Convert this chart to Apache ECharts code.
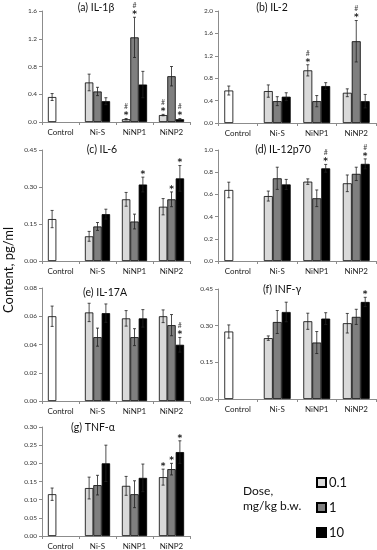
<!DOCTYPE html>
<html><head><meta charset="utf-8">
<script src="https://cdn.jsdelivr.net/npm/echarts@6/dist/echarts.min.js"></script>
<style>html,body{margin:0;padding:0;background:#fff}#c{width:377px;height:550px}</style>
</head><body><div id="c"></div>
<script>
const categories = ['Control', 'Ni-S', 'NiNP1', 'NiNP2'];
const doses = ['0.1', '1', '10'];

// (a) IL-1β
const il1b_d01 = [0.36, 0.57, 0.04, 0.10], il1b_e01 = [0.05, 0.12, 0.01, 0.01];
const il1b_d1 = [null, 0.44, 1.22, 0.66], il1b_e1 = [null, 0.06, 0.29, 0.14];
const il1b_d10 = [null, 0.30, 0.54, 0.04], il1b_e10 = [null, 0.05, 0.19, 0.01];
const il1b_m01 = ['', '', '*#', '*#'], il1b_m1 = ['', '', '*#', ''], il1b_m10 = ['', '', '', '*#'];
// (b) IL-2
const il2_d01 = [0.58, 0.57, 0.94, 0.54], il2_e01 = [0.08, 0.11, 0.10, 0.07];
const il2_d1 = [null, 0.39, 0.39, 1.46], il2_e1 = [null, 0.08, 0.10, 0.37];
const il2_d10 = [null, 0.47, 0.66, 0.39], il2_e10 = [null, 0.07, 0.06, 0.12];
const il2_m01 = ['', '', '*#', ''], il2_m1 = ['', '', '', '*#'], il2_m10 = ['', '', '', ''];
// (c) IL-6
const il6_d01 = [0.17, 0.10, 0.25, 0.22], il6_e01 = [0.035, 0.02, 0.028, 0.033];
const il6_d1 = [null, 0.14, 0.16, 0.25], il6_e1 = [null, 0.016, 0.03, 0.03];
const il6_d10 = [null, 0.19, 0.31, 0.335], il6_e10 = [null, 0.02, 0.03, 0.052];
const il6_m01 = ['', '', '', ''], il6_m1 = ['', '', '', '*'], il6_m10 = ['', '', '*', '*'];
// (d) IL-12p70
const il12_d01 = [0.64, 0.585, 0.715, 0.70], il12_e01 = [0.07, 0.045, 0.025, 0.075];
const il12_d1 = [null, 0.745, 0.565, 0.785], il12_e1 = [null, 0.10, 0.075, 0.06];
const il12_d10 = [null, 0.69, 0.835, 0.875], il12_e10 = [null, 0.045, 0.035, 0.045];
const il12_m01 = ['', '', '', ''], il12_m1 = ['', '', '', ''], il12_m10 = ['', '', '*#', '*#'];
// (e) IL-17A
const il17_d01 = [0.060, 0.0627, 0.0585, 0.060], il17_e01 = [0.0072, 0.0065, 0.0055, 0.0045];
const il17_d1 = [null, 0.0452, 0.0452, 0.0537], il17_e1 = [null, 0.0064, 0.006, 0.0075];
const il17_d10 = [null, 0.0622, 0.0585, 0.0398], il17_e10 = [null, 0.0065, 0.0062, 0.0052];
const il17_m01 = ['', '', '', ''], il17_m1 = ['', '', '', ''], il17_m10 = ['', '', '', '*#'];
// (f) INF-γ
const inf_d01 = [0.276, 0.249, 0.318, 0.31], inf_e01 = [0.027, 0.009, 0.033, 0.04];
const inf_d1 = [null, 0.315, 0.231, 0.336], inf_e1 = [null, 0.047, 0.045, 0.031];
const inf_d10 = [null, 0.356, 0.329, 0.397], inf_e10 = [null, 0.04, 0.024, 0.019];
const inf_m01 = ['', '', '', ''], inf_m1 = ['', '', '', ''], inf_m10 = ['', '', '', '*'];
// (g) TNF-α
const tnf_d01 = [0.115, 0.132, 0.138, 0.162], tnf_e01 = [0.017, 0.03, 0.026, 0.022];
const tnf_d1 = [null, 0.14, 0.115, 0.184], tnf_e1 = [null, 0.027, 0.037, 0.016];
const tnf_d10 = [null, 0.20, 0.16, 0.231], tnf_e10 = [null, 0.05, 0.038, 0.031];
const tnf_m01 = ['', '', '', '*'], tnf_m1 = ['', '', '', '*'], tnf_m10 = ['', '', '', '*'];

const panels = [
  {title: '(a) IL-1β', max: 1.6, interval: 0.4, dec: 1, vals: [il1b_d01, il1b_d1, il1b_d10], errs: [il1b_e01, il1b_e1, il1b_e10], marks: [il1b_m01, il1b_m1, il1b_m10]},
  {title: '(b) IL-2', max: 2.0, interval: 0.4, dec: 1, vals: [il2_d01, il2_d1, il2_d10], errs: [il2_e01, il2_e1, il2_e10], marks: [il2_m01, il2_m1, il2_m10]},
  {title: '(c) IL-6', max: 0.45, interval: 0.15, dec: 2, vals: [il6_d01, il6_d1, il6_d10], errs: [il6_e01, il6_e1, il6_e10], marks: [il6_m01, il6_m1, il6_m10]},
  {title: '(d) IL-12p70', max: 1.0, interval: 0.2, dec: 1, vals: [il12_d01, il12_d1, il12_d10], errs: [il12_e01, il12_e1, il12_e10], marks: [il12_m01, il12_m1, il12_m10]},
  {title: '(e) IL-17A', max: 0.08, interval: 0.02, dec: 2, vals: [il17_d01, il17_d1, il17_d10], errs: [il17_e01, il17_e1, il17_e10], marks: [il17_m01, il17_m1, il17_m10]},
  {title: '(f) INF-γ', max: 0.45, interval: 0.15, dec: 2, vals: [inf_d01, inf_d1, inf_d10], errs: [inf_e01, inf_e1, inf_e10], marks: [inf_m01, inf_m1, inf_m10]},
  {title: '(g) TNF-α', max: 0.30, interval: 0.05, dec: 2, vals: [tnf_d01, tnf_d1, tnf_d10], errs: [tnf_e01, tnf_e1, tnf_e10], marks: [tnf_m01, tnf_m1, tnf_m10]}
];

const grids = [
  {left: 42, top: 11, width: 148, height: 111},
  {left: 218, top: 11, width: 158, height: 112},
  {left: 42, top: 150, width: 148, height: 111},
  {left: 218, top: 150, width: 158, height: 111},
  {left: 42, top: 288, width: 148, height: 113},
  {left: 218, top: 289, width: 158, height: 110},
  {left: 42, top: 427, width: 148, height: 109}
];
const titlePos = [[96, 8], [272, 8], [102, 150], [283, 150], [105, 293], [282, 290], [93, 428]];

const FONT = 'Lato';
const colors = ['#d9d9d9', '#7f7f7f', '#000000'];
const GAP = 0.32;

const xAxis = [], yAxis = [], series = [], graphics = [];
panels.forEach((p, gi) => {
  xAxis.push({
    type: 'category', gridIndex: gi, data: categories,
    axisLine: {lineStyle: {color: '#8c8c8c', width: 1}},
    axisTick: {show: true, length: 3, lineStyle: {color: '#8c8c8c'}},
    axisLabel: {fontSize: 8, color: '#222', fontFamily: FONT, margin: 6}
  });
  yAxis.push({
    type: 'value', gridIndex: gi, min: 0, max: p.max, interval: p.interval,
    axisLine: {show: true, lineStyle: {color: '#8c8c8c', width: 1}},
    axisTick: {show: true, length: 3, lineStyle: {color: '#8c8c8c'}},
    splitLine: {show: false},
    axisLabel: {fontSize: 6.5, color: '#333', fontFamily: FONT, margin: 5,
      formatter: v => v.toFixed(p.dec)}
  });
  p.vals.forEach((arr, si) => {
    series.push({
      type: 'bar', name: doses[si], xAxisIndex: gi, yAxisIndex: gi,
      barGap: '0%', barCategoryGap: (GAP * 100) + '%',
      itemStyle: {color: colors[si], borderColor: '#000', borderWidth: 0.8},
      data: arr.map((v, i) => {
        if (v === null) return '-';
        if (si === 0 && i === 0) return {value: v, itemStyle: {color: '#ffffff'}};
        return v;
      }),
      z: 2, silent: true
    });
  });
  p.vals.forEach((arr, si) => {
    const errs = p.errs[si], marks = p.marks[si];
    const data = [];
    arr.forEach((v, i) => { if (v !== null) data.push([i, v, errs[i]]); });
    series.push({
      type: 'custom', xAxisIndex: gi, yAxisIndex: gi, z: 5, silent: true,
      encode: {x: 0, y: 1},
      data: data,
      renderItem: (params, api) => {
        const cat = api.value(0), v = api.value(1), e = api.value(2);
        const band = api.size([1, 0])[0];
        const bw = band * (1 - GAP) / 3;
        const cx = api.coord([cat, v])[0] + (si - 1) * bw;
        const yT = api.coord([cat, v + e])[1];
        const yB = api.coord([cat, Math.max(0, v - e)])[1];
        const st = {stroke: '#222', lineWidth: 0.8};
        const ch = [
          {type: 'line', shape: {x1: cx, y1: yT, x2: cx, y2: yB}, style: st},
          {type: 'line', shape: {x1: cx - 1.5, y1: yT, x2: cx + 1.5, y2: yT}, style: st},
          {type: 'line', shape: {x1: cx - 1.5, y1: yB, x2: cx + 1.5, y2: yB}, style: st}
        ];
        const m = marks[data[params.dataIndex][0]] || '';
        let yy = yT - 1;
        if (m.indexOf('*') >= 0) {
          ch.push({type: 'text', style: {text: '*', x: cx, y: yy + 3, align: 'center', verticalAlign: 'bottom', fontSize: 9, fontWeight: 'bold', fill: '#222', fontFamily: 'DejaVu Sans'}});
          yy -= 7;
        }
        if (m.indexOf('#') >= 0) {
          ch.push({type: 'text', style: {text: '#', x: cx, y: yy, align: 'center', verticalAlign: 'bottom', fontSize: 7, fill: '#444', fontFamily: FONT}});
        }
        return {type: 'group', children: ch};
      }
    });
  });
  graphics.push({type: 'text', x: titlePos[gi][0], y: titlePos[gi][1],
    style: {text: p.title, align: 'center', verticalAlign: 'middle', fontSize: 10.5, fill: '#111', fontFamily: FONT}});
});

graphics.push({type: 'text', x: 9, y: 270, rotation: Math.PI / 2,
  style: {text: 'Content, pg/ml', align: 'center', verticalAlign: 'middle', fontSize: 13, fill: '#111', fontFamily: FONT}});
graphics.push({type: 'text', x: 243, y: 484,
  style: {text: 'Dose,\nmg/kg b.w.', align: 'left', verticalAlign: 'top', fontSize: 12, lineHeight: 15, fill: '#111', fontFamily: FONT}});

const chart = echarts.init(document.getElementById('c'), null, {renderer: 'canvas'});
chart.setOption({
  animation: false,
  backgroundColor: '#fff',
  grid: grids,
  xAxis: xAxis,
  yAxis: yAxis,
  series: series,
  legend: {data: doses, orient: 'vertical', left: 311, top: 471, itemWidth: 9, itemHeight: 9, itemGap: 12,
    icon: 'rect', selectedMode: false,
    textStyle: {fontSize: 13, color: '#111', fontFamily: FONT, padding: [0, 0, 0, -2]}},
  graphic: graphics
});
</script></body></html>
